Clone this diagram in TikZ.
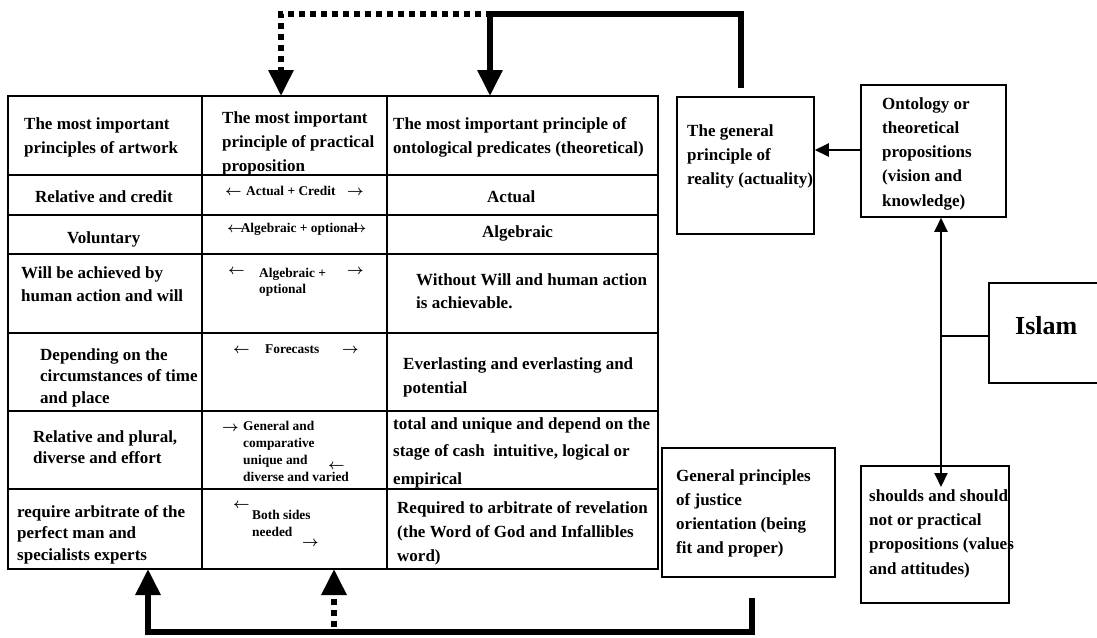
\documentclass[tikz,border=0pt]{standalone}
\usepackage{fontspec}
\usepackage{bm}
\setmainfont{Liberation Serif}
\usetikzlibrary{arrows.meta}
\newcommand{\la}{$\bm{\leftarrow}$}
\newcommand{\ra}{$\bm{\rightarrow}$}
\tikzset{
  cell/.style={font=\fontsize{17}{#1}\selectfont\bfseries, anchor=base west, align=left, inner sep=0pt},
  cell/.default=24,
  small/.style={font=\fontsize{13.4}{#1}\selectfont\bfseries, anchor=base west, align=left, inner sep=0pt},
  small/.default=16.7,
  boxnode/.style={draw, line width=1.5pt, inner sep=0pt},
  tline/.style={line width=1.2pt},
  thin arrow/.style={line width=2pt, -{Triangle[length=14pt,width=13pt]}},
  thick arrow/.style={line width=6pt, line join=miter, -{Triangle[length=26pt,width=24pt]}},
  dot arrow/.style={line width=6pt, dash pattern=on 6pt off 5pt, -{Triangle[length=26pt,width=24pt]}}
}
\begin{document}
\begin{tikzpicture}[x=1pt,y=-1pt]
\useasboundingbox (0,0) rectangle (1097,637);

% ---------- table ----------
\node[draw, tline, minimum width=650pt, minimum height=473pt, inner sep=0pt] (tbl) at (333,332.5) {};
\foreach \yy in {175,215,254,333,411,489}{
  \draw[tline] (8,\yy) -- (658,\yy);
}
\draw[tline] (202,96) -- (202,569);
\draw[tline] (387,96) -- (387,569);

% (multi-line nodes are placed by the baseline of their last line)
% header
\node[cell] (h1) at (24,153) {The most important\\principles of artwork};
\node[cell] (h2) at (222,171) {The most important\\principle of practical\\proposition};
\node[cell] (h3) at (393,153) {The most important principle of\\ontological predicates (theoretical)};

% row 2
\node[cell] (r2a) at (35,202) {Relative and credit};
\node[small] (r2l) at (225,195) {\la};
\node[small] (r2b) at (246,195) {Actual + Credit};
\node[small] (r2r) at (347,195) {\ra};
\node[cell] (r2c) at (487,202) {Actual};

% row 3
\node[cell] (r3a) at (67,243) {Voluntary};
\node[small] (r3b) at (227,232) {\la\kern-3pt Algebraic + optional\kern-8pt\ra};
\node[cell] (r3c) at (482,237) {Algebraic};

% row 4
\node[cell=23] (r4a) at (21,301) {Will be achieved by\\human action and will};
\node[small] (r4l) at (228,274) {\la};
\node[small=16] (r4b) at (259,293) {Algebraic +\\optional};
\node[small] (r4r) at (347,274) {\ra};
\node[cell=23] (r4c) at (416,308) {Without Will and human action\\is achievable.};

% row 5
\node[cell=21.5] (r5a) at (40,403) {Depending on the\\circumstances of time\\and place};
\node[small] (r5l) at (233,353) {\la};
\node[small] (r5b) at (265,353) {Forecasts};
\node[small] (r5r) at (342,353) {\ra};
\node[cell] (r5c) at (403,393) {Everlasting and everlasting and\\potential};

% row 6
\node[cell=21] (r6a) at (33,463) {Relative and plural,\\diverse and effort};
\node[small] (r6r) at (222,431) {\ra};
\node[small=16.7] (r6b) at (243,481) {General and\\comparative\\unique and\\diverse and varied};
\node[small] (r6l) at (328,469) {\la};
\begin{scope}
  \clip (388,412) rectangle (657,487);
  \node[cell=27.5] (r6c) at (393,484) {total and unique and depend on the\\stage of cash\ \ intuitive, logical or\\empirical};
\end{scope}

% row 7
\node[cell=21.5] (r7a) at (17,560) {require arbitrate of the\\perfect man and\\specialists experts};
\node[small] (r7l) at (233,508) {\la};
\node[small=17] (r7b) at (252,536) {Both sides\\needed};
\node[small] (r7r) at (302,546) {\ra};
\node[cell] (r7c) at (397,561) {Required to arbitrate of revelation\\(the Word of God and Infallibles\\word)};

% ---------- right boxes ----------
\node[boxnode, minimum width=137pt, minimum height=137pt] (gen) at (745.5,165.5) {};
\node[cell] (gent) at (687,184) {The general\\principle of\\reality (actuality)};

\node[boxnode, minimum width=145pt, minimum height=132pt] (onto) at (933.5,151) {};
\node[cell=24.25] (ontot) at (882,206) {Ontology or\\theoretical\\propositions\\(vision and\\knowledge)};

\node[boxnode, minimum width=111pt, minimum height=100pt] (islam) at (1044.5,333) {};
\node[font=\fontsize{26}{30}\selectfont\bfseries, anchor=base west, inner sep=0pt] (islamt) at (1015,334) {Islam};

\node[boxnode, minimum width=173pt, minimum height=129pt] (just) at (748.5,512.5) {};
\node[cell] (justt) at (676,553) {General principles\\of justice\\orientation (being\\fit and proper)};

\node[boxnode, minimum width=148pt, minimum height=137pt] (should) at (935,534.5) {};
\node[cell=24.3] (shouldt) at (869,574) {shoulds and should\\not or practical\\propositions (values\\and attitudes)};

% ---------- thin connectors ----------
\draw[thin arrow] (onto.west |- 0,150) -- (gen.east |- 0,150);
\coordinate (j) at (941,336);
\coordinate (sh) at (941,487);
\draw[line width=2pt] (islam.west |- j) -- (j);
\draw[thin arrow] (j) -- (j |- onto.south);
\draw[thin arrow] (j) -- (sh);

% ---------- thick connectors ----------
\coordinate (tS) at (741,88);
\coordinate (tB) at (490,96);
\coordinate (tA) at (281,96);
\draw[thick arrow] (tS) |- (490,14) -- (tB);
\draw[dot arrow] (503,14) -- (281,14) -- (tA);

\coordinate (bS) at (752,598);
\coordinate (bA) at (148,569);
\coordinate (bB) at (334,569);
\draw[thick arrow] (bS) |- (148,632) -- (bA);
\draw[dot arrow] (334,627) -- (bB);
\end{tikzpicture}
\end{document}
